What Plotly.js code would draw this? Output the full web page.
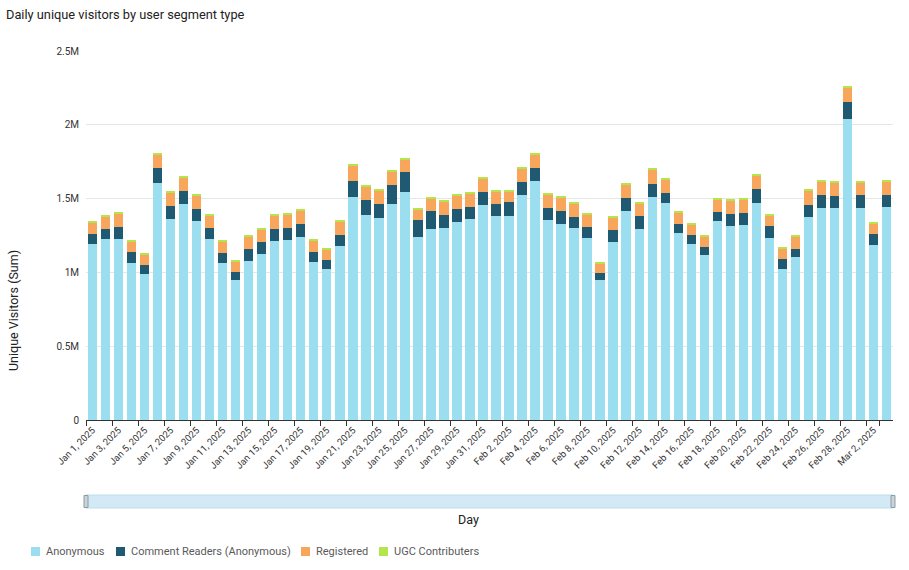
<!DOCTYPE html>
<html>
<head>
<meta charset="utf-8">
<script src="https://cdn.plot.ly/plotly-3.0.1.min.js"></script>
<style>html,body{margin:0;padding:0;background:#fff;}#chart{width:909px;height:570px;}</style>
</head>
<body>
<div id="chart"></div>
<script>
const days = [
  "Jan 1, 2025","Jan 2, 2025","Jan 3, 2025","Jan 4, 2025","Jan 5, 2025","Jan 6, 2025","Jan 7, 2025","Jan 8, 2025",
  "Jan 9, 2025","Jan 10, 2025","Jan 11, 2025","Jan 12, 2025","Jan 13, 2025","Jan 14, 2025","Jan 15, 2025","Jan 16, 2025",
  "Jan 17, 2025","Jan 18, 2025","Jan 19, 2025","Jan 20, 2025","Jan 21, 2025","Jan 22, 2025","Jan 23, 2025","Jan 24, 2025",
  "Jan 25, 2025","Jan 26, 2025","Jan 27, 2025","Jan 28, 2025","Jan 29, 2025","Jan 30, 2025","Jan 31, 2025",
  "Feb 1, 2025","Feb 2, 2025","Feb 3, 2025","Feb 4, 2025","Feb 5, 2025","Feb 6, 2025","Feb 7, 2025","Feb 8, 2025",
  "Feb 9, 2025","Feb 10, 2025","Feb 11, 2025","Feb 12, 2025","Feb 13, 2025","Feb 14, 2025","Feb 15, 2025","Feb 16, 2025",
  "Feb 17, 2025","Feb 18, 2025","Feb 19, 2025","Feb 20, 2025","Feb 21, 2025","Feb 22, 2025","Feb 23, 2025","Feb 24, 2025",
  "Feb 25, 2025","Feb 26, 2025","Feb 27, 2025","Feb 28, 2025","Mar 1, 2025","Mar 2, 2025","Mar 3, 2025"
];

// values in visitors
const anonymous = [
  1191000,1223000,1227000,1063000,986000,1604000,1363000,1462000,1349000,1225000,1065000,946000,1077000,1124000,1214000,1218000,
  1243000,1072000,1020000,1176000,1514000,1392000,1369000,1466000,1543000,1241000,1295000,1302000,1340000,1363000,1457000,
  1383000,1385000,1525000,1617000,1354000,1329000,1300000,1234000,946000,1209000,1417000,1293000,1511000,1473000,1264000,
  1194000,1117000,1345000,1315000,1318000,1473000,1236000,1023000,1104000,1374000,1437000,1435000,2036000,1435000,1189000,1441000
];
const commentReaders = [
  70000,72000,81000,74000,63000,106000,90000,92000,79000,74000,68000,59000,79000,79000,81000,83000,
  83000,68000,65000,77000,106000,97000,95000,124000,135000,113000,119000,86000,88000,81000,86000,
  79000,90000,90000,90000,81000,86000,77000,72000,52000,77000,86000,86000,86000,68000,61000,
  59000,54000,63000,81000,83000,92000,79000,68000,56000,83000,86000,83000,117000,88000,72000,83000
];
const registered = [
  77000,83000,88000,74000,70000,92000,90000,92000,90000,86000,77000,70000,86000,86000,88000,90000,
  90000,77000,70000,90000,101000,95000,92000,92000,88000,70000,86000,92000,92000,92000,90000,
  83000,70000,92000,95000,92000,90000,92000,83000,65000,86000,95000,90000,97000,90000,79000,
  72000,74000,88000,92000,90000,90000,72000,68000,83000,95000,90000,90000,99000,86000,70000,90000
];
const ugcContributors = [
  7000,7000,7000,7000,7000,9000,7000,7000,7000,7000,7000,7000,7000,7000,7000,7000,
  7000,7000,7000,7000,7000,7000,7000,7000,7000,7000,7000,7000,7000,7000,7000,
  7000,7000,7000,7000,7000,7000,7000,7000,7000,7000,7000,7000,7000,7000,7000,
  7000,7000,7000,7000,7000,7000,7000,7000,7000,7000,7000,7000,9000,7000,7000,6000
];

const seriesNames = ["Anonymous","Comment Readers (Anonymous)","Registered","UGC Contributers"];
const seriesColors = ["#9adeef","#1f5a72","#f8a65c","#b5e54d"];
const tickLabels = days.filter((d, i) => i % 2 === 0);
const yTickVals = [0, 500000, 1000000, 1500000, 2000000, 2500000];
const yTickText = ["0", "0.5M", "1M", "1.5M", "2M", "2.5M"];

const seriesValues = [anonymous, commentReaders, registered, ugcContributors];

// ---- layout geometry (pixels) ----
const W = 909, H = 570;
const M = { l: 86, r: 16, t: 51, b: 150 };
const PW = W - M.l - M.r, PH = H - M.t - M.b;
const px2x = p => (p - M.l) / PW;          // pixel x -> paper x
const py2y = p => (H - M.b - p) / PH;      // pixel y -> paper y
const legendX = [31, 116, 301, 379];
const legendY = 551.5;
const FONT = "Roboto, 'Liberation Sans', Arial, sans-serif";

const traces = seriesValues.map((vals, k) => ({
  type: "bar",
  name: seriesNames[k],
  x: days,
  y: vals,
  marker: { color: seriesColors[k], line: { width: 0 } },
  hovertemplate: "%{x}<br>" + seriesNames[k] + ": %{y:,}<extra></extra>"
}));

const shapes = [
  // range-slider track
  { type: "rect", layer: "below", xref: "paper", yref: "paper",
    x0: 0, x1: 1, y0: py2y(508), y1: py2y(495),
    fillcolor: "#d3e9f5", line: { color: "#bfdcec", width: 1 } },
  // slider grabbers
  { type: "rect", xref: "paper", yref: "paper", xsizemode: "pixel", xanchor: 0,
    x0: -2, x1: 2, y0: py2y(507.5), y1: py2y(495.5),
    fillcolor: "#c9d3d8", line: { color: "#8c9ca3", width: 1 } },
  { type: "rect", xref: "paper", yref: "paper", xsizemode: "pixel", xanchor: 1,
    x0: -2, x1: 2, y0: py2y(507.5), y1: py2y(495.5),
    fillcolor: "#c9d3d8", line: { color: "#8c9ca3", width: 1 } }
];
seriesNames.forEach((n, k) => {
  shapes.push({
    type: "rect", xref: "paper", yref: "paper",
    xsizemode: "pixel", ysizemode: "pixel",
    xanchor: px2x(legendX[k]), yanchor: py2y(legendY),
    x0: 0, x1: 9, y0: -4.5, y1: 4.5,
    fillcolor: seriesColors[k], line: { width: 0 }
  });
});

const annotations = [
  { text: "Unique Visitors (Sum)", xref: "paper", yref: "paper",
    x: px2x(13), y: py2y(311), xanchor: "center", yanchor: "middle",
    textangle: -90, showarrow: false,
    font: { family: FONT, size: 12.5, color: "#222222" } },
  { text: "Day", xref: "paper", yref: "paper",
    x: px2x(468), y: py2y(519), xanchor: "center", yanchor: "middle",
    showarrow: false,
    font: { family: FONT, size: 12.5, color: "#222222" } }
];
seriesNames.forEach((n, k) => {
  annotations.push({
    text: n, xref: "paper", yref: "paper",
    x: px2x(legendX[k] + 13), y: py2y(legendY),
    xanchor: "left", yanchor: "middle", showarrow: false,
    font: { family: FONT, size: 11, color: "#5a5a5a" }
  });
});

const layout = {
  width: W,
  height: H,
  barmode: "stack",
  bargap: 0.28,
  paper_bgcolor: "#ffffff",
  plot_bgcolor: "#ffffff",
  font: { family: FONT, color: "#333333", size: 10 },
  margin: { l: M.l, r: M.r, t: M.t, b: M.b, pad: 0 },
  title: {
    text: "Daily unique visitors by user segment type",
    font: { family: FONT, size: 12.8, color: "#222222" },
    xref: "container", x: 6 / W, xanchor: "left",
    yref: "container", y: 1 - 15 / H, yanchor: "middle"
  },
  showlegend: false,
  xaxis: {
    type: "category",
    range: [-0.5, days.length - 0.5],
    tickmode: "array",
    tickvals: tickLabels,
    ticktext: tickLabels,
    tickson: "boundaries",
    ticks: "outside",
    ticklen: 5,
    tickcolor: "#333333",
    tickangle: -45,
    tickfont: { family: FONT, size: 9.5, color: "#333333" },
    showgrid: false,
    showline: true,
    linecolor: "#333333",
    linewidth: 1,
    automargin: false,
    fixedrange: true
  },
  yaxis: {
    range: [0, 2500000],
    tickmode: "array",
    tickvals: yTickVals,
    ticktext: yTickText,
    tickfont: { family: FONT, size: 10, color: "#333333" },
    showgrid: true,
    gridcolor: "#e6e6e6",
    gridwidth: 1,
    zeroline: false,
    showline: false,
    ticks: "",
    ticklabelstandoff: 6,
    automargin: false,
    fixedrange: true
  },
  shapes: shapes,
  annotations: annotations
};

Plotly.newPlot("chart", traces, layout, { displayModeBar: false, responsive: false });
</script>
</body>
</html>
